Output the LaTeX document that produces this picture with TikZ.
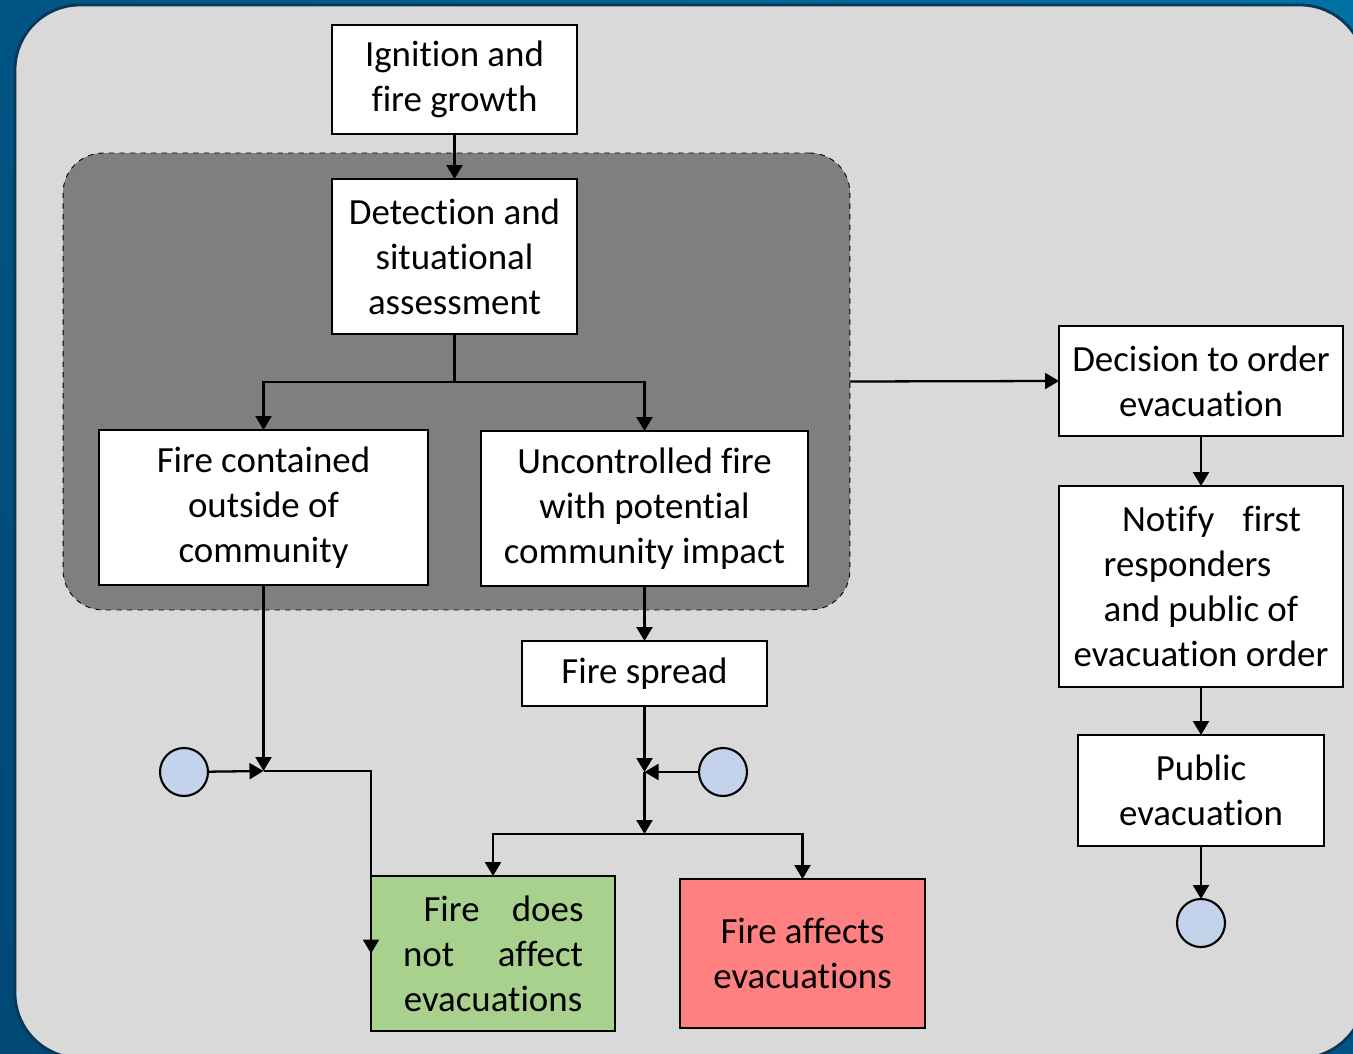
\documentclass[tikz,border=0pt]{standalone}
\usepackage{fontspec}
\setmainfont{Carlito}[RawFeature={-liga}]
\usetikzlibrary{arrows.meta,shadings}

\definecolor{deepsea}{HTML}{004876}
\definecolor{brightsea}{HTML}{0072A3}
\definecolor{rimline}{HTML}{0B3656}
\definecolor{sheetgray}{HTML}{D9D9D9}
\definecolor{zonegray}{HTML}{7F7F7F}
\definecolor{okgreen}{HTML}{A9D18E}
\definecolor{badred}{HTML}{FF8080}
\definecolor{dotblue}{HTML}{C2D3EB}

\tikzset{
  box/.style={draw, fill=white, line width=1.4pt, inner sep=0pt, outer sep=0pt,
    align=center, font=\fontsize{21}{25.6}\selectfont},
  dot/.style={draw, circle, fill=dotblue, line width=1.2pt, minimum size=0.96cm,
    inner sep=0pt, outer sep=0pt},
  flow/.style={line width=1.3pt, -{Triangle[length=0.28cm, width=0.32cm]}},
  plain/.style={line width=1.3pt}
}

\begin{document}
\begin{tikzpicture}[x=0.02cm, y=-0.02cm]
        \useasboundingbox (0,0) rectangle (1353,1054);
        % backdrop
        \shade[lower left=deepsea, upper right=brightsea, lower right=deepsea!70!brightsea, upper left=deepsea!70!brightsea] (0,0) rectangle (1353,1054);
        \draw[rounded corners=1.3cm, fill=sheetgray, draw=rimline, line width=1.6pt] (15,5) rectangle (1365,1058);
        \node (zone) [draw, dashed, fill=zonegray, rounded corners=0.8cm, line width=0.5pt,
          minimum width=15.74cm, minimum height=9.14cm, inner sep=0pt, outer sep=0pt] at (456.5,381.5) {};

        % boxes
        \node (ignite) [box, minimum width=4.9cm, minimum height=2.18cm] at (454.5,79.5) {Ignition and\\fire growth};
        \node (detect) [box, minimum width=4.9cm, minimum height=3.1cm] at (454.5,256.5) {Detection and\\situational\\assessment};
        \node (contained) [box, minimum width=6.58cm, minimum height=3.1cm] at (263.5,507.5) {Fire contained\\outside of\\community};
        \node (uncontrol) [box, minimum width=6.54cm, minimum height=3.1cm] at (644.5,508.5) {Uncontrolled fire\\with potential\\community impact};
        \node (spread) [box, minimum width=4.9cm, minimum height=1.3cm] at (644.5,673.5) {Fire spread};
        \node (noeffect) [box, fill=okgreen, minimum width=4.88cm, minimum height=3.1cm] at (493,953.5)
          {\hspace*{0.42cm}\makebox[3.2cm][s]{Fire does}\\\makebox[3.6cm][s]{not affect}\\evacuations};
        \node (affects) [box, fill=badred, minimum width=4.9cm, minimum height=2.98cm] at (802.5,953.5) {Fire affects\\evacuations};
        \node (decide) [box, minimum width=5.68cm, minimum height=2.2cm] at (1201,381) {Decision to order\\evacuation};
        \node (notify) [box, minimum width=5.68cm, minimum height=4.02cm] at (1201,586.5)
          {\hspace*{0.42cm}\makebox[3.58cm][s]{Notify first}\\responders\rule{0.54cm}{0pt}\\and public of\\evacuation order};
        \node (leave) [box, minimum width=4.92cm, minimum height=2.22cm] at (1201,790.5) {Public\\evacuation};

        % round markers
        \node (inA) [dot] at (184,772) {};
        \node (inB) [dot] at (723,772) {};
        \node (outC) [dot] at (1201,923) {};

        % junctions
        \coordinate (fork) at (454.5,382);
        \coordinate (meetA) at (263.5,771);
        \coordinate (meetB) at (644.5,772);
        \coordinate (forkB) at (644.5,834);

        % connectors
        \draw[flow] (ignite) -- (detect);
        \draw[plain] (detect) -- (fork);
        \draw[flow] (fork) -| (contained);
        \draw[flow] (fork) -| (uncontrol);
        \draw[flow] (zone.east) -- (decide.west);
        \draw[flow] (decide) -- (notify);
        \draw[flow] (notify) -- (leave);
        \draw[flow] (leave) -- (outC);
        \draw[flow] (contained) -- (meetA);
        \draw[flow] (inA) -- (meetA);
        \draw[flow] (meetA) -| (noeffect.west);
        \draw[flow] (uncontrol) -- (spread);
        \draw[flow] (spread) -- (meetB);
        \draw[flow] (inB) -- (meetB);
        \draw[flow] (meetB) -- (forkB);
        \draw[flow] (forkB) -| (noeffect);
        \draw[flow] (forkB) -| (affects);
\end{tikzpicture}
\end{document}
